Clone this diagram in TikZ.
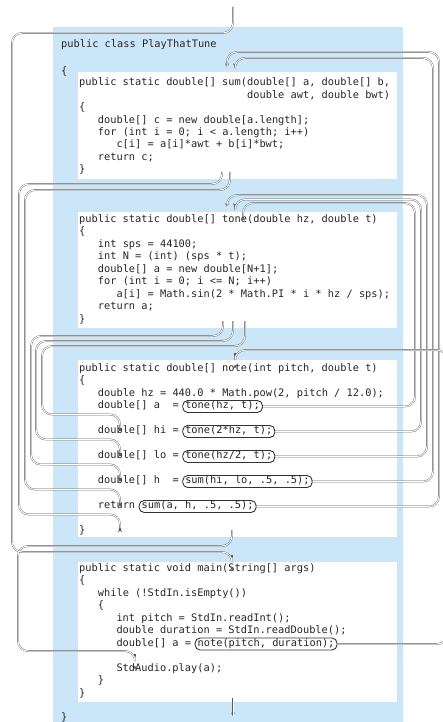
\documentclass[tikz,border=0pt]{standalone}
\usepackage{fontspec}
\setmonofont{DejaVu Sans Mono}
\usepackage{xcolor}
\usetikzlibrary{arrows.meta}
\definecolor{class-blue}{RGB}{204,230,249}
\newcommand{\codefont}{\ttfamily\fontsize{10.33}{12.4}\selectfont}
\tikzset{
    code-box/.style = {fill=white, anchor=north west, inner sep=0pt},
    code-line/.style = {anchor=base west, inner sep=0pt, outer ysep=2pt, text height=8pt, text depth=2pt, font=\codefont, text=black!85},
    call-box/.style = {draw=black!80, line width=0.9pt, fill=white, rounded corners=5pt, anchor=base west, inner xsep=2.5pt, inner ysep=1.5pt, text height=6.5pt, text depth=2.5pt, font=\codefont, text=black!85},
    flow-line/.style = {draw=white, line width=1pt, rounded corners=10pt, shorten >=4.5pt,
        preaction={draw=black!65, line width=1.7pt, -{Stealth[length=4pt, width=3.8pt]}}},
}

\begin{document}
\begin{tikzpicture}[x=1pt, y=-1pt]
\useasboundingbox (0,0) rectangle (443,722);

% class and method boxes
\node[code-box, fill=class-blue, minimum width=350pt, minimum height=700pt] (class-box) at (53,27) {};
\node[code-box, minimum width=319pt, minimum height=107pt] (sum-box) at (78,72) {};
\node[code-box, minimum width=319pt, minimum height=116pt] (tone-box) at (78,212) {};
\node[code-box, minimum width=319pt, minimum height=177pt] (note-box) at (78,360) {};
\node[code-box, minimum width=319pt, minimum height=140pt] (main-box) at (78,562) {};

% class
\node[code-line] (class-head) at (61,48) {public class PlayThatTune};
\node[code-line] (class-open) at (61,75) {\{};
\node[code-line] (class-close) at (61,720) {\}};

% sum()
\node[code-line] (sum-head) at (79,86) {public static double[] sum(double[] a, double[] b,};
\node[code-line] (sum-args) at (246.9,98.4) {double awt, double bwt)};
\node[code-line] (sum-open) at (79,110.8) {\{};
\node[code-line] (sum-new) at (97.7,123.2) {double[] c = new double[a.length];};
\node[code-line] (sum-for) at (97.7,135.6) {for (int i = 0; i < a.length; i++)};
\node[code-line] (sum-body) at (116.3,148) {c[i] = a[i]*awt + b[i]*bwt;};
\node[code-line] (sum-ret) at (97.7,160.4) {return c;};
\node[code-line] (sum-close) at (79,172.8) {\}};

% tone()
\node[code-line] (tone-head) at (79,222) {public static double[] tone(double hz, double t)};
\node[code-line] (tone-open) at (79,234.5) {\{};
\node[code-line] (tone-sps) at (97.7,247) {int sps = 44100;};
\node[code-line] (tone-n) at (97.7,259.5) {int N = (int) (sps * t);};
\node[code-line] (tone-new) at (97.7,272) {double[] a = new double[N+1];};
\node[code-line] (tone-for) at (97.7,284.5) {for (int i = 0; i <= N; i++)};
\node[code-line] (tone-body) at (116.3,297) {a[i] = Math.sin(2 * Math.PI * i * hz / sps);};
\node[code-line] (tone-ret) at (97.7,309.5) {return a;};
\node[code-line] (tone-close) at (79,322) {\}};

% note()
\node[code-line] (note-head) at (79,371) {public static double[] note(int pitch, double t)};
\node[code-line] (note-open) at (79,383.5) {\{};
\node[code-line] (note-hz) at (97.7,396) {double hz = 440.0 * Math.pow(2, pitch / 12.0);};
\node[code-line] (note-a) at (97.7,408.5) {double[] a\ \ =};
\node[code-line] (note-hi) at (97.7,433.5) {double[] hi =};
\node[code-line] (note-lo) at (97.7,458.5) {double[] lo =};
\node[code-line] (note-h) at (97.7,483.5) {double[] h\ \ =};
\node[code-line] (note-ret) at (97.7,508.5) {return};
\node[code-line] (note-close) at (79,533.5) {\}};
\node[call-box] (call-tone-a) at (182.3,408.5) {tone(hz, t);};
\node[call-box] (call-tone-hi) at (182.3,433.5) {tone(2*hz, t);};
\node[call-box] (call-tone-lo) at (182.3,458.5) {tone(hz/2, t);};
\node[call-box] (call-sum-h) at (182.3,483.5) {sum(hi, lo, .5, .5);};
\node[call-box] (call-sum-ret) at (138.7,508.5) {sum(a, h, .5, .5);};

% main()
\node[code-line] (main-head) at (79,571) {public static void main(String[] args)};
\node[code-line] (main-open) at (79,583.5) {\{};
\node[code-line] (main-while) at (97.7,596) {while (!StdIn.isEmpty())};
\node[code-line] (main-loop) at (97.7,608.5) {\{};
\node[code-line] (main-pitch) at (116.3,621) {int pitch = StdIn.readInt();};
\node[code-line] (main-dur) at (116.3,633.5) {double duration = StdIn.readDouble();};
\node[code-line] (main-a) at (116.3,646) {double[] a =};
\node[code-line] (main-play) at (116.3,671) {StdAudio.play(a);};
\node[code-line] (main-endloop) at (97.7,683.5) {\}};
\node[code-line] (main-close) at (79,696) {\}};
\node[call-box] (call-note) at (194.7,646) {note(pitch, duration);};

% returns
\coordinate (sum-back-ret) at (222,172);
\coordinate (sum-back-h) at (230,172);
\coordinate (tone-back-lo2) at (223,321);
\coordinate (tone-back-lo) at (233,321);
\coordinate (tone-back-hi) at (245,321);
\coordinate (note-back) at (232,530);
\draw[flow-line] (sum-back-ret) -- (222,184) -- (19,184) -- (19,514.5) -- (120,514.5) [rounded corners=3pt] -- (120,0 |- note-close.north);
\draw[flow-line] (sum-back-h) -- (230,190) -- (25,190) -- (25,489.5) -- (120,489.5) [rounded corners=3pt] -- (120,0 |- note-ret.north);
\draw[flow-line] (tone-back-lo2) -- (223,336) -- (31,336) -- (31,464.5) -- (120,464.5) [rounded corners=3pt] -- (120,0 |- note-h.north);
\draw[flow-line] (tone-back-lo) -- (233,341) -- (36,341) -- (36,439.5) -- (120,439.5) [rounded corners=3pt] -- (120,0 |- note-lo.north);
\draw[flow-line] (tone-back-hi) -- (245,346) -- (42,346) -- (42,414.5) -- (120,414.5) [rounded corners=3pt] -- (120,0 |- note-hi.north);
\draw[flow-line] (note-back) -- (232,546) -- (18,546) -- (18,651) -- (135,651) [rounded corners=3pt] -- (135,0 |- main-play.north);

% calls
\coordinate (enter) at (233,7);
\coordinate (leave) at (233,721);
\draw[flow-line] (enter) -- (233,33) -- (12,33) -- (12,552) -- (232,552) [rounded corners=4pt] -- (232,0 |- main-box.north);
\draw[flow-line] (call-sum-ret.east) -- (439,506.5) -- (439,52) -- (227,52) [rounded corners=6pt] -- (227,0 |- sum-box.north);
\draw[flow-line] (call-sum-h.east) -- (433,481.5) -- (433,58) -- (235,58) [rounded corners=6pt] -- (235,0 |- sum-box.north);
\draw[flow-line] (call-tone-lo.east) -- (427,456.5) -- (427,195) -- (227,195) [rounded corners=5pt] -- (227,0 |- tone-box.north);
\draw[flow-line] (call-tone-hi.east) -- (421,431.5) -- (421,199.5) -- (235,199.5) [rounded corners=4pt] -- (235,0 |- tone-box.north);
\draw[flow-line] (call-tone-a.east) -- (415,406.5) -- (415,203) -- (243,203) [rounded corners=3pt] -- (243,0 |- tone-box.north);
\draw[flow-line] (call-note.east) -- (447,644) -- (447,350) -- (235,350) [rounded corners=3pt] -- (235,0 |- note-box.north);
\draw[flow-line] (233,0 |- main-box.south) ++(0,-4) -- (leave);
\end{tikzpicture}
\end{document}
